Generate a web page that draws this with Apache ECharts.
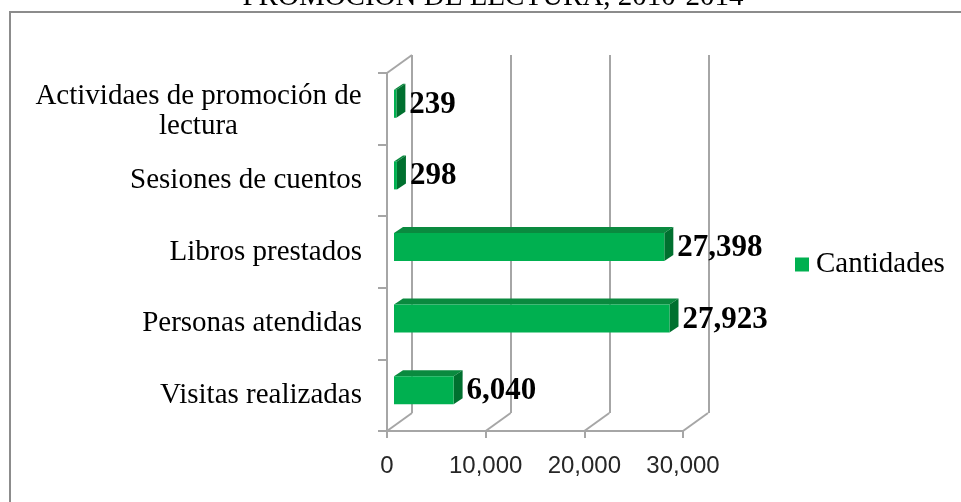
<!DOCTYPE html>
<html>
<head>
<meta charset="utf-8">
<script src="https://cdn.jsdelivr.net/npm/echarts@6/dist/echarts.min.js"></script>
<style>
  html, body { margin: 0; padding: 0; background: #fff; }
  #main { width: 961px; height: 502px; }
</style>
</head>
<body>
<div id="main"></div>
<script>
// data
var categories = ['Actividaes de promoción de\nlectura', 'Sesiones de cuentos', 'Libros prestados', 'Personas atendidas', 'Visitas realizadas'];
var cantidades = [239, 298, 27398, 27923, 6040];
var xTicks = [0, 10000, 20000, 30000];

var GRID = '#a6a6a6';
var CAT_FONT = 29;
// 3d look: wall depth and bar depth in px
var WALL_DX = 25, WALL_DY = -18;
var BAR_SHIFT_X = 7, BAR_SHIFT_Y = -5, BAR_DX = 9, BAR_DY = -6, BAR_H = 28;

function fmt(v) {
    return String(v).replace(/\B(?=(\d{3})+(?!\d))/g, ',');
}

// width of the longest line of the wrapped label, so the short line can sit centred under it
var ctx = document.createElement('canvas').getContext('2d');
ctx.font = CAT_FONT + 'px "Liberation Serif"';
function lineWidth(s) {
    return Math.ceil(Math.max.apply(null, s.split('\n').map(function (l) { return ctx.measureText(l).width; })));
}
var wrapWidth = lineWidth(categories[0]);

var dom = document.getElementById('main');
var myChart = echarts.init(dom);

option = {
    animation: false,
    title: {
        text: 'PROMOCIÓN DE LECTURA, 2010-2014',
        left: 488,
        top: -22,
        textAlign: 'center',
        textStyle: { fontFamily: 'Liberation Serif', fontWeight: 'normal', fontSize: 29, color: '#000' }
    },
    graphic: [{
        type: 'rect',
        shape: { x: 10, y: 12, width: 1000, height: 560 },
        style: { fill: 'none', stroke: '#8c8c8c', lineWidth: 2 },
        silent: true
    }],
    legend: {
        data: ['Cantidades'],
        left: 790,
        top: 245,
        icon: 'rect',
        itemWidth: 14,
        itemHeight: 14,
        itemGap: 6,
        textStyle: { fontFamily: 'Liberation Serif', fontSize: 29, color: '#000', padding: [0, 0, 0, 2] }
    },
    grid: [
        { left: 387, top: 73, width: 296, height: 358 },
        { left: 412, top: 55, width: 297, height: 358 }
    ],
    xAxis: [{
        type: 'value', gridIndex: 0, min: 0, max: 30000, interval: 10000,
        axisLine: { show: true, lineStyle: { color: GRID, width: 2 } },
        axisTick: { show: true, length: 7, lineStyle: { color: GRID, width: 2 } },
        axisLabel: {
            margin: 23, formatter: fmt,
            fontFamily: 'Liberation Sans', fontSize: 24, color: '#262626'
        },
        splitLine: { show: false }
    }, {
        type: 'value', gridIndex: 1, min: 0, max: 30000, interval: 10000,
        axisLine: { show: false }, axisTick: { show: false }, axisLabel: { show: false },
        splitLine: { show: true, lineStyle: { color: GRID, width: 2 } }
    }],
    yAxis: [{
        type: 'category', gridIndex: 0, inverse: true,
        data: categories.map(function (c) {
            return c.indexOf('\n') < 0 ? c : { value: c, textStyle: { padding: [6, 0, 0, 0] } };
        }),
        axisLine: { show: true, lineStyle: { color: GRID, width: 2 } },
        axisTick: { show: true, length: 9, lineStyle: { color: GRID, width: 2 } },
        axisLabel: {
            margin: 25,
            fontFamily: 'Liberation Serif', fontSize: CAT_FONT, color: '#000',
            formatter: function (v) {
                if (v.indexOf('\n') < 0) return v;
                return v.split('\n').map(function (s) { return '{c|' + s + '}'; }).join('\n');
            },
            rich: {
                c: { width: wrapWidth, align: 'center', fontFamily: 'Liberation Serif', fontSize: CAT_FONT, color: '#000', lineHeight: 30 }
            }
        },
        splitLine: { show: false }
    }, {
        type: 'category', gridIndex: 1, inverse: true, data: categories, show: false
    }],
    series: [
        {
            // floor / wall diagonals linking front axis to back wall
            name: 'walls',
            type: 'custom',
            xAxisIndex: 0, yAxisIndex: 0,
            silent: true,
            z: 1,
            data: xTicks.map(function (t) { return [t]; }),
            renderItem: function (params, api) {
                var v = api.value(0);
                var band = api.size([0, 1])[1];
                var bottom = api.coord([v, categories.length - 1]);
                var by = bottom[1] + band / 2;
                var children = [{
                    type: 'line',
                    shape: { x1: bottom[0], y1: by, x2: bottom[0] + WALL_DX, y2: by + WALL_DY },
                    style: { stroke: GRID, lineWidth: 2 }
                }];
                if (params.dataIndex === 0) {
                    var top = api.coord([v, 0]);
                    var ty = top[1] - band / 2;
                    children.push({
                        type: 'line',
                        shape: { x1: top[0], y1: ty, x2: top[0] + WALL_DX, y2: ty + WALL_DY },
                        style: { stroke: GRID, lineWidth: 2 }
                    });
                }
                return { type: 'group', children: children };
            }
        },
        {
            name: 'Cantidades',
            type: 'custom',
            xAxisIndex: 0, yAxisIndex: 0,
            z: 3,
            itemStyle: { color: '#00b050' },
            data: cantidades.map(function (v, i) { return [v, i]; }),
            encode: { x: 0, y: 1 },
            renderItem: function (params, api) {
                var v = api.value(0);
                var i = api.value(1);
                var p0 = api.coord([0, i]);
                var p1 = api.coord([v, i]);
                var x0 = p0[0] + BAR_SHIFT_X;
                var x1 = p1[0] + BAR_SHIFT_X;
                var cy = p0[1] + BAR_SHIFT_Y;
                var yT = cy - BAR_H / 2, yB = cy + BAR_H / 2;
                return {
                    type: 'group',
                    children: [{
                        type: 'polygon',
                        shape: { points: [[x0, yT], [x1, yT], [x1 + BAR_DX, yT + BAR_DY], [x0 + BAR_DX, yT + BAR_DY]] },
                        style: { fill: '#0a8a3f' }
                    }, {
                        type: 'polygon',
                        shape: { points: [[x1, yT], [x1 + BAR_DX, yT + BAR_DY], [x1 + BAR_DX, yB + BAR_DY], [x1, yB]] },
                        style: { fill: '#00702f' }
                    }, {
                        type: 'rect',
                        shape: { x: x0, y: yT, width: Math.max(x1 - x0, 0), height: BAR_H },
                        style: { fill: '#00b050' }
                    }, {
                        type: 'text',
                        style: {
                            x: x1 + BAR_DX + 4, y: cy + 1,
                            text: fmt(v),
                            fill: '#000',
                            font: 'bold 31px "Liberation Serif"',
                            textAlign: 'left', textVerticalAlign: 'middle'
                        }
                    }]
                };
            }
        }
    ]
};

if (option && typeof option === 'object') {
    myChart.setOption(option, true);
}
window.onresize = myChart.resize;
</script>
</body>
</html>
